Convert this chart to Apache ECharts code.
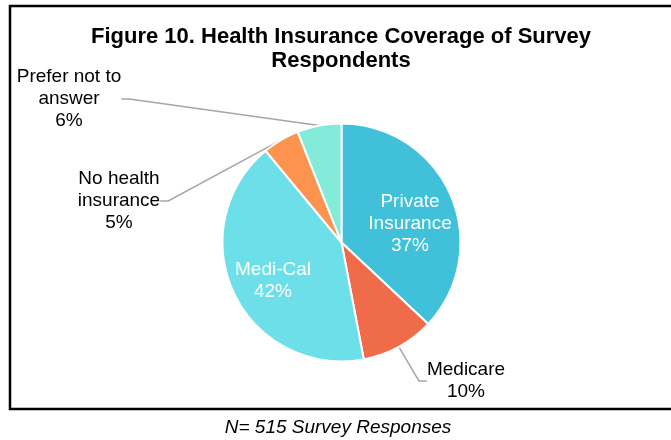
<!DOCTYPE html>
<html><head><meta charset="utf-8">
<script src="https://cdn.jsdelivr.net/npm/echarts@6/dist/echarts.min.js"></script>
<style>html,body{margin:0;padding:0;background:#fff}#c{width:671px;height:440px}</style>
</head><body><div id="c"></div>
<script>
const titleText = 'Figure 10. Health Insurance Coverage of Survey\nRespondents';
const captionText = 'N= 515 Survey Responses';
const categories = ['Private Insurance', 'Medicare', 'Medi-Cal', 'No health insurance', 'Prefer not to answer'];
const labelNames = ['Private\nInsurance', 'Medicare', 'Medi-Cal', 'No health\ninsurance', 'Prefer not to\nanswer'];
const values = [37, 10, 42, 5, 6];
const colors = ['#41C1D9', '#F06B49', '#6CDFE9', '#FC9450', '#84EBDA'];
const insideLabel = [true, false, true, false, false];
// label layout (block centres, px)
const labelPos = [[410, 224], [466, 381], [273, 281], [119, 201], [69, 99]];

const chart = echarts.init(document.getElementById('c'));
const data = categories.map((c, i) => ({
  name: c,
  value: values[i],
  itemStyle: { color: colors[i] },
  label: insideLabel[i] ? { color: '#fff' } : { color: '#000' },
  labelLine: { show: !insideLabel[i] }
}));
chart.setOption({
  animation: false,
  graphic: [
    { type: 'rect', shape: { x: 10, y: 6, width: 664, height: 403 }, style: { fill: 'none', stroke: '#000', lineWidth: 2.5 } },
    { type: 'text', x: 341, y: 25, style: { text: titleText, font: 'bold 22px "Liberation Sans", Arial', lineHeight: 24, fill: '#000', textAlign: 'center', textVerticalAlign: 'top', align: 'center', verticalAlign: 'top' } },
    { type: 'text', x: 338, y: 428, style: { text: captionText, font: 'italic 19px "Liberation Sans", Arial', fill: '#000', textAlign: 'center', textVerticalAlign: 'middle' } }
  ],
  series: [{
    type: 'pie',
    center: [341.5, 242.5],
    radius: 119,
    startAngle: 90,
    clockwise: true,
    itemStyle: { borderColor: '#fff', borderWidth: 2 },
    label: {
      show: true,
      position: 'outside',
      fontFamily: 'Liberation Sans, Arial',
      fontSize: 19,
      lineHeight: 22,
      align: 'center',
      formatter: p => labelNames[p.dataIndex] + '\n' + p.value + '%'
    },
    labelLine: { show: true, length: 10, length2: 8, lineStyle: { color: '#A6A6A6', width: 1.5 } },
    labelLayout: p => ({
      x: labelPos[p.dataIndex][0],
      y: labelPos[p.dataIndex][1],
      align: 'center',
      verticalAlign: 'middle'
    }),
    data: data
  }]
});
</script></body></html>
